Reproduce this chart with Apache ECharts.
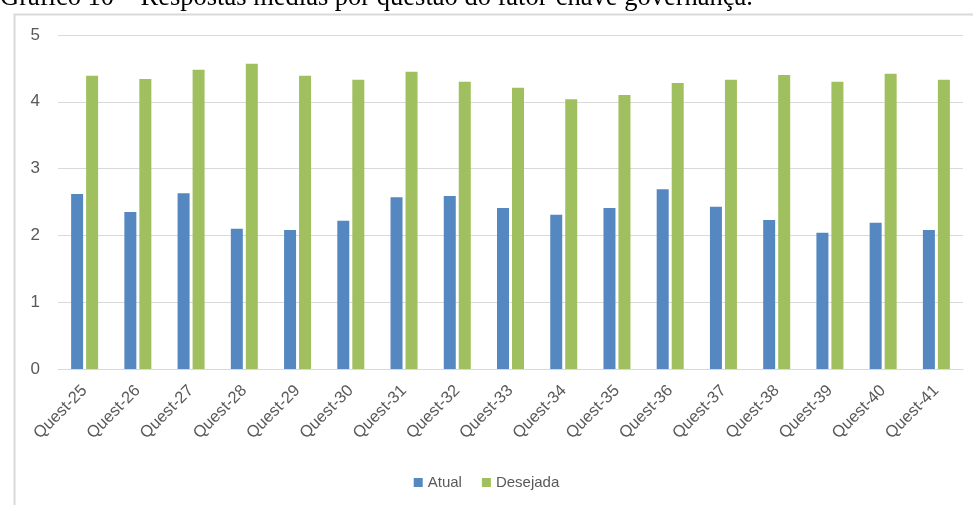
<!DOCTYPE html>
<html>
<head>
<meta charset="utf-8">
<script src="https://cdn.jsdelivr.net/npm/echarts@6/dist/echarts.min.js"></script>
<style>
html,body{margin:0;padding:0;background:#fff;}
#c{width:973px;height:505px;}
</style>
</head>
<body>
<div id="c"></div>
<script>
const categories = ['Quest-25','Quest-26','Quest-27','Quest-28','Quest-29','Quest-30','Quest-31','Quest-32','Quest-33','Quest-34','Quest-35','Quest-36','Quest-37','Quest-38','Quest-39','Quest-40','Quest-41'];
const atual = [2.62,2.35,2.63,2.10,2.08,2.22,2.57,2.59,2.41,2.31,2.41,2.69,2.43,2.23,2.04,2.19,2.08];
const desejada = [4.39,4.34,4.48,4.57,4.39,4.33,4.45,4.30,4.21,4.04,4.10,4.28,4.33,4.40,4.30,4.42,4.33];
const yTicks = [0,1,2,3,4,5];
const titleText = 'Gráfico 10 – Respostas médias por questão do fator-chave governança.';

const chart = echarts.init(document.getElementById('c'), null, {renderer:'canvas'});
chart.setOption({
  animation:false,
  backgroundColor:'#fff',
  graphic:[
    {type:'rect', left:12, top:12, shape:{x:0,y:0,width:980,height:520}, style:{fill:'none', stroke:'#d9d9d9', lineWidth:2}},
    {type:'text', x:0, y:12, style:{text:titleText, font:'26.5px "Liberation Serif", serif', fill:'#000', textVerticalAlign:'bottom'}}
  ],
  grid:{left:58, right:10, top:35, bottom:136},
  legend:{
    bottom:10, left:'center',
    data:['Atual','Desejada'],
    icon:'rect', itemWidth:9, itemHeight:9, itemGap:20, itemTextGap:4,
    textStyle:{color:'#595959', fontSize:15, fontFamily:'"Liberation Sans", sans-serif'}
  },
  xAxis:{
    type:'category', data:categories,
    axisLine:{lineStyle:{color:'#d9d9d9'}},
    axisTick:{show:false},
    axisLabel:{rotate:45, color:'#595959', fontSize:16.5, margin:19, interval:0, fontFamily:'"Liberation Sans", sans-serif'}
  },
  yAxis:{
    type:'value', min:yTicks[0], max:yTicks[yTicks.length-1], interval:1,
    axisLine:{show:false}, axisTick:{show:false},
    splitLine:{lineStyle:{color:'#d9d9d9'}},
    axisLabel:{color:'#595959', fontSize:17, margin:18, fontFamily:'"Liberation Sans", sans-serif'}
  },
  series:[
    {name:'Atual', type:'bar', data:atual, barWidth:12, barGap:'25%', itemStyle:{color:'#5588c0'}},
    {name:'Desejada', type:'bar', data:desejada, barWidth:12, itemStyle:{color:'#a0bf5e'}}
  ]
});
</script>
</body>
</html>
